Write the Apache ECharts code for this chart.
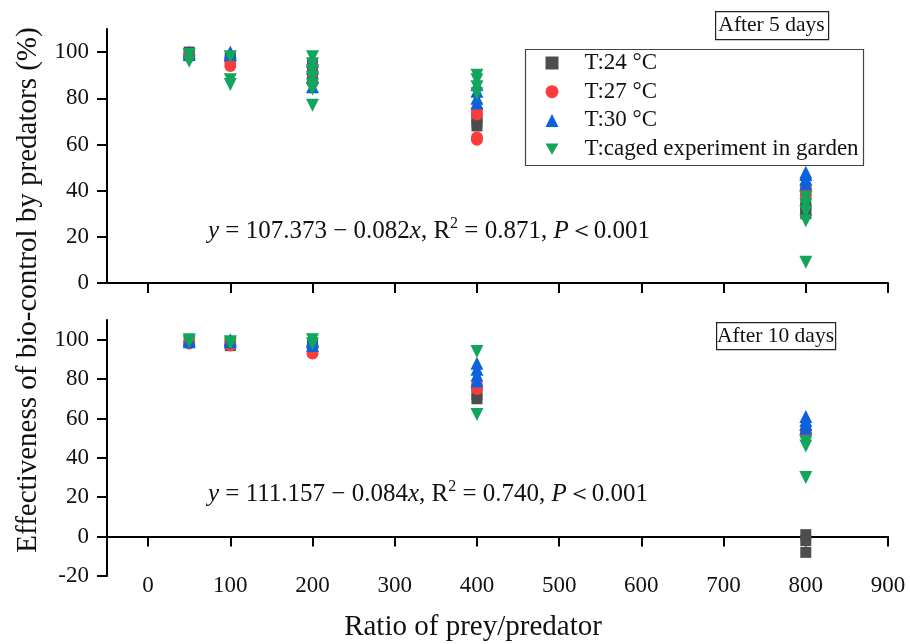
<!DOCTYPE html>
<html>
<head>
<meta charset="utf-8">
<script src="https://cdn.jsdelivr.net/npm/echarts@6/dist/echarts.min.js"></script>
<style>
html,body{margin:0;padding:0;background:#fff;}
#chart{width:910px;height:644px;}
</style>
</head>
<body>
<div id="chart"></div>
<script>
// ---- data ----
const seriesNames = ['T:24 \u00B0C', 'T:27 \u00B0C', 'T:30 \u00B0C', 'T:caged experiment in garden'];
const xTicks = [0, 100, 200, 300, 400, 500, 600, 700, 800, 900];
const yTicksTop = [0, 20, 40, 60, 80, 100];
const yTicksBottom = [-20, 0, 20, 40, 60, 80, 100];

// After 5 days: [ratio of prey/predator, effectiveness %]
const day5_T24 = [[50,99],[50,100],[100,97],[100,98],[200,88],[200,92],[200,95],[400,68],[400,70],[400,72],[800,30],[800,32],[800,34]];
const day5_T27 = [[50,98],[50,99],[100,94],[100,96],[200,87],[200,91],[200,94],[400,62],[400,63],[400,73],[400,75],[800,38],[800,40],[800,42]];
const day5_T30 = [[50,99],[50,100],[100,99],[100,100],[200,85],[200,89],[200,93],[200,96],[400,78],[400,80],[400,83],[400,86],[800,43],[800,45],[800,47],[800,48]];
const day5_garden = [[50,96],[50,99],[100,98],[100,88],[100,86],[200,98],[200,95],[200,92],[200,89],[200,86],[200,84],[200,77],[400,90],[400,88],[400,85],[400,82],[800,37],[800,34],[800,31],[800,27],[800,9]];

// After 10 days
const day10_T24 = [[50,99],[100,97],[100,98],[200,97],[200,98],[400,70],[400,72],[800,1],[800,-2],[800,-8]];
const day10_T27 = [[50,98],[50,99],[100,97],[100,99],[200,93],[200,96],[400,75],[400,77],[800,52],[800,54]];
const day10_T30 = [[50,99],[50,100],[100,99],[100,100],[200,97],[200,99],[200,100],[400,79],[400,82],[400,85],[400,88],[800,55],[800,57],[800,59],[800,61]];
const day10_garden = [[50,99],[50,100],[100,98],[100,99],[200,98],[200,100],[400,94],[400,62],[800,48],[800,46],[800,30]];

const eqTop = '{i|y} = 107.373 \u2212 0.082{i|x}, R{s|2} = 0.871, {i|P}\uFF1C0.001';
const eqBottom = '{i|y} = 111.157 \u2212 0.084{i|x}, R{s|2} = 0.740, {i|P}\uFF1C0.001';

// ---- styles ----
const FONT = 'Liberation Serif, Times New Roman, serif';
const colors = ['#4d4d4d', '#fa3c3c', '#0c62db', '#12a55c'];
const symbols = ['rect', 'circle', 'triangle', 'path://M0,0L10,0L5,8.66Z'];
const sizes = [11, 12, 13, 13];
const TICK_FS = 23;

const chart = echarts.init(document.getElementById('chart'), null, {renderer: 'canvas'});

function xAxisCfg(gridIndex, showLabel) {
  return {
    type: 'value', gridIndex: gridIndex, min: -50, max: 900,
    axisLine: {show: true, onZero: true, lineStyle: {color: '#000', width: 2}},
    axisTick: {show: true, inside: false, length: 10, customValues: xTicks, lineStyle: {color: '#000', width: 2}},
    axisLabel: {show: showLabel, customValues: xTicks, margin: -2, color: '#111', fontFamily: FONT, fontSize: TICK_FS},
    splitLine: {show: false}
  };
}
function yAxisCfg(gridIndex, min, ticks) {
  return {
    type: 'value', gridIndex: gridIndex, min: min, max: 110,
    axisLine: {show: true, onZero: false, lineStyle: {color: '#000', width: 2}},
    axisTick: {show: true, inside: false, length: 10, customValues: ticks, lineStyle: {color: '#000', width: 2}},
    axisLabel: {show: true, customValues: ticks, margin: 18, color: '#111', fontFamily: FONT, fontSize: TICK_FS},
    splitLine: {show: false}
  };
}

const dataSets = [
  [day5_T24, day5_T27, day5_T30, day5_garden],
  [day10_T24, day10_T27, day10_T30, day10_garden]
];
const series = [];
dataSets.forEach((set, g) => {
  set.forEach((d, k) => {
    series.push({
      name: seriesNames[k], type: 'scatter', xAxisIndex: g, yAxisIndex: g,
      data: d, symbol: symbols[k], symbolSize: sizes[k],
      itemStyle: {color: colors[k], opacity: 1},
      emphasis: {disabled: true}, z: 2 + k
    });
  });
});

const EQ_FS = 25;
const richEq = {
  i: {fontFamily: FONT, fontSize: EQ_FS, fontStyle: 'italic', color: '#111', lineHeight: 30},
  s: {fontFamily: FONT, fontSize: 16, color: '#111', verticalAlign: 'top', lineHeight: 16}
};

chart.setOption({
  animation: false,
  backgroundColor: '#fff',
  grid: [
    {left: 107, right: 22, top: 29, height: 254, containLabel: false},
    {left: 107, right: 22, top: 320, height: 256, containLabel: false}
  ],
  xAxis: [xAxisCfg(0, false), xAxisCfg(1, true)],
  yAxis: [yAxisCfg(0, 0, yTicksTop), yAxisCfg(1, -20, yTicksBottom)],
  legend: {
    orient: 'vertical', left: 545.5, top: 51.5, padding: 0,
    itemWidth: 13, itemHeight: 13, itemGap: 5.7,
    data: seriesNames.map((n, k) => ({name: n, icon: symbols[k]})),
    textStyle: {fontFamily: FONT, fontSize: 23, lineHeight: 23, color: '#111', padding: [0, 0, 0, 21]},
    selectedMode: false
  },
  series: series,
  graphic: [
    {type: 'rect', left: 523, top: 47, shape: {width: 338, height: 116}, style: {fill: 'none', stroke: '#444', lineWidth: 1.2}, z: 10},
    {type: 'rect', left: 715, top: 11, shape: {width: 113, height: 28}, style: {fill: '#fff', stroke: '#222', lineWidth: 1.2}, z: 10},
    {type: 'text', x: 771.5, y: 25, style: {text: 'After 5 days', fontFamily: FONT, fontSize: 21.5, fill: '#111', align: 'center', verticalAlign: 'middle'}, z: 11},
    {type: 'rect', left: 716, top: 322, shape: {width: 119, height: 27}, style: {fill: '#fff', stroke: '#222', lineWidth: 1.2}, z: 10},
    {type: 'text', x: 775.5, y: 336, style: {text: 'After 10 days', fontFamily: FONT, fontSize: 21.5, fill: '#111', align: 'center', verticalAlign: 'middle'}, z: 11},
    {type: 'text', x: 208, y: 231, style: {text: eqTop, rich: richEq, fontFamily: FONT, fontSize: EQ_FS, lineHeight: 30, fill: '#111', align: 'left', verticalAlign: 'middle'}, z: 11},
    {type: 'text', x: 208, y: 494, style: {text: eqBottom, rich: richEq, fontFamily: FONT, fontSize: EQ_FS, lineHeight: 30, fill: '#111', align: 'left', verticalAlign: 'middle'}, z: 11},
    {type: 'text', x: 28, y: 290, rotation: Math.PI / 2, style: {text: 'Effectiveness of bio-control by predators (%)', fontFamily: FONT, fontSize: 29, fill: '#111', align: 'center', verticalAlign: 'middle'}, z: 11},
    {type: 'text', x: 473, y: 627, style: {text: 'Ratio of prey/predator', fontFamily: FONT, fontSize: 29, fill: '#111', align: 'center', verticalAlign: 'middle'}, z: 11}
  ]
});
</script>
</body>
</html>
